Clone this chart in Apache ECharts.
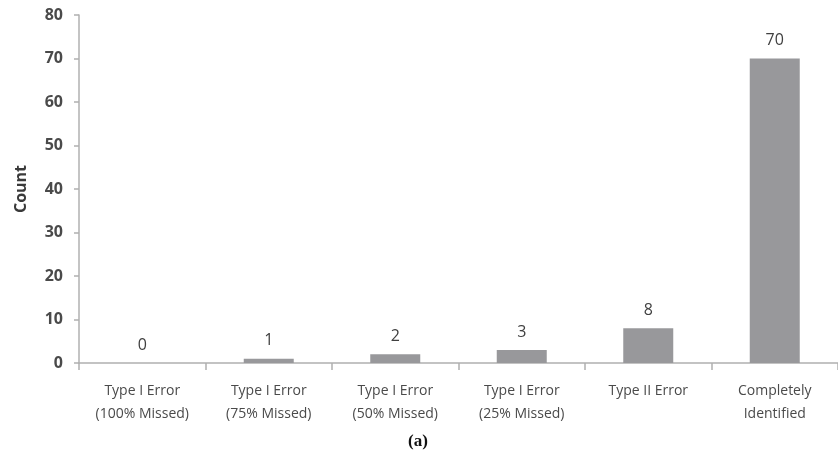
<!DOCTYPE html>
<html>
<head>
<meta charset="utf-8">
<script src="https://cdn.jsdelivr.net/npm/echarts@6/dist/echarts.min.js"></script>
<style>
html, body { margin: 0; padding: 0; background: #fff; }
#main { width: 838px; height: 463px; }
</style>
</head>
<body>
<div id="main"></div>
<script>
var categories = [
	"Type I Error\n(100% Missed)",
	"Type I Error\n(75% Missed)",
	"Type I Error\n(50% Missed)",
	"Type I Error\n(25% Missed)",
	"Type II Error",
	"Completely\nIdentified"
];
var counts = [0, 1, 2, 3, 8, 70];

var chart = echarts.init(document.getElementById('main'));

chart.setOption({
	backgroundColor : '#fff',
	animation : false,
	grid : {
		left : 79,
		top : 15,
		width : 762,
		height : 348
	},
	xAxis : {
		type : 'category',
		data : categories,
		axisLine : { lineStyle : { color : '#b0b0b0', width : 1.5 } },
		axisTick : { show : true, length : 7, lineStyle : { color : '#b0b0b0', width : 1.5 } },
		axisLabel : {
			color : '#4a4a4a',
			fontFamily : 'Open Sans',
			fontSize : 14,
			lineHeight : 23,
			margin : 17,
			interval : 0
		}
	},
	yAxis : {
		type : 'value',
		min : 0,
		max : 80,
		interval : 10,
		name : 'Count',
		nameLocation : 'middle',
		nameGap : 50,
		nameTextStyle : { color : '#3a3a3a', fontWeight : 'bold', fontSize : 16, fontFamily : 'Open Sans' },
		axisLine : { show : true, lineStyle : { color : '#b0b0b0', width : 1.5 } },
		axisTick : { show : true, length : 5, lineStyle : { color : '#b0b0b0', width : 1.5 } },
		splitLine : { show : false },
		axisLabel : {
			color : '#4a4a4a',
			fontWeight : 'bold',
			fontSize : 16,
			fontFamily : 'Open Sans',
			margin : 16
		}
	},
	series : [{
		type : 'bar',
		data : counts,
		barWidth : 50,
		itemStyle : { color : '#98989b' },
		label : {
			show : true,
			position : 'top',
			distance : 10,
			color : '#404040',
			fontSize : 16,
			fontFamily : 'Open Sans'
		}
	}],
	graphic : [{
		type : 'text',
		left : 408,
		top : 433,
		style : {
			text : '(a)',
			font : 'bold 17px "Liberation Serif"',
			fill : '#111'
		}
	}]
});
</script>
</body>
</html>
